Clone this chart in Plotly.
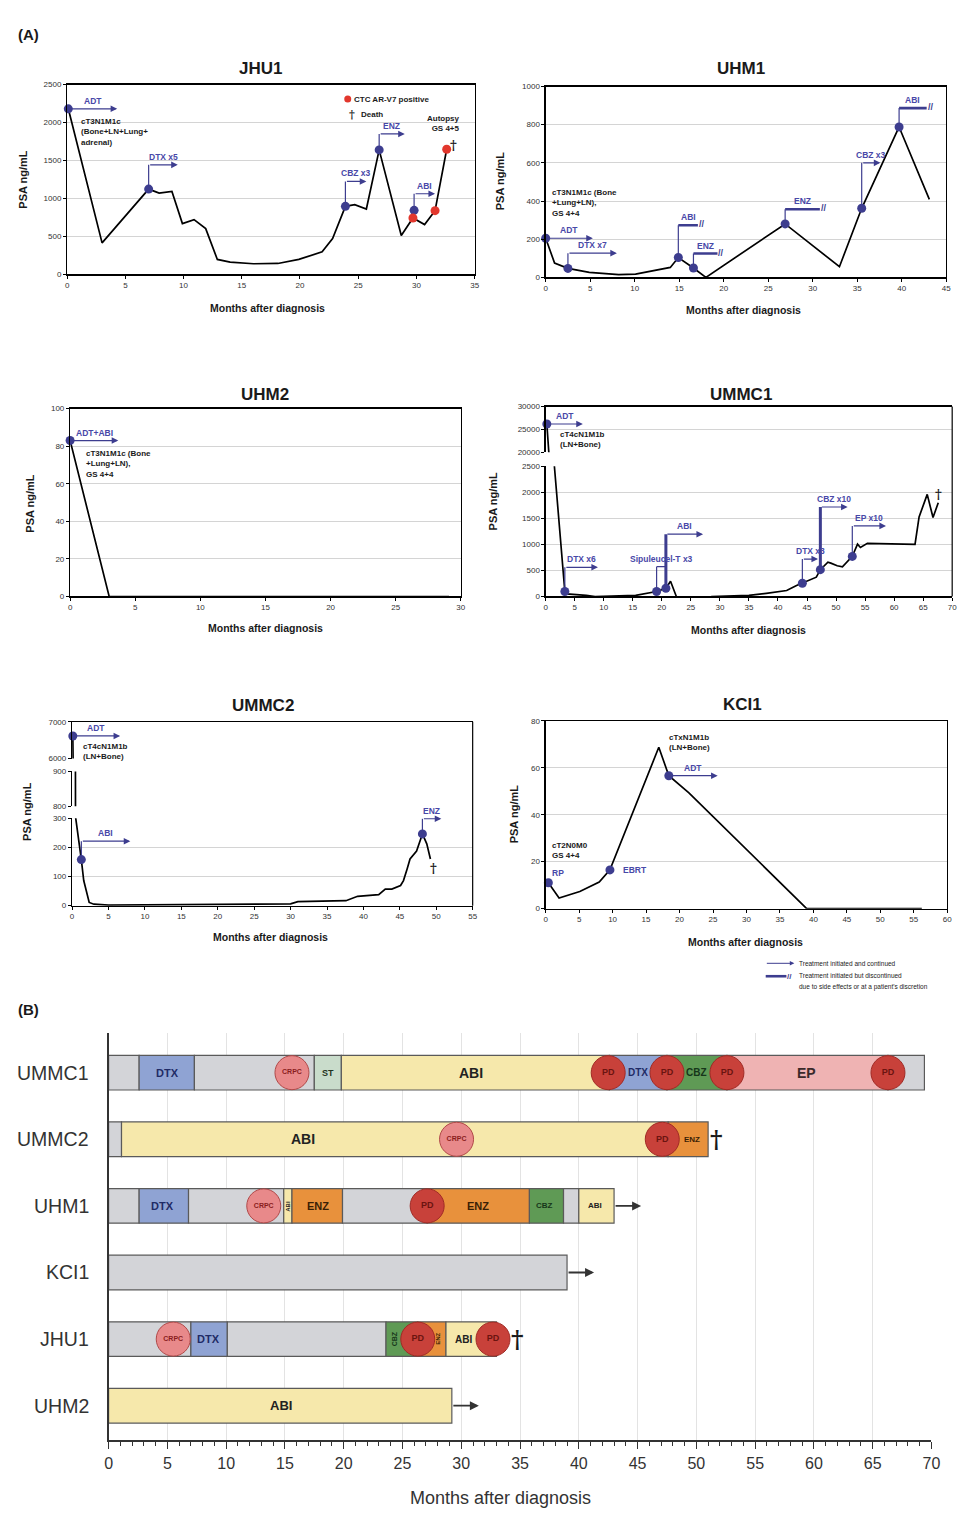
import plotly.graph_objects as go

W, H = 975, 1526
FONT = "Liberation Sans, Arial, Helvetica, sans-serif"
NARROW = "Liberation Sans Narrow, Liberation Sans, Arial, sans-serif"
BLUE = "#3d3d8f"
BLUE_TXT = "#4848a8"
RED = "#e2372d"
GRID = "#d4d4d4"
INK = "#1a1a1a"

# ====================== Panel A data (PSA ng/mL vs months) ======================
JHU1_MONTHS = [0.1, 3.0, 7.0, 7.9, 9.0, 9.9, 10.9, 11.9, 12.9, 14.0, 16.0, 18.1, 19.9, 21.9,
               22.8, 23.9, 24.7, 25.7, 26.8, 28.7, 29.7, 30.7, 31.6, 32.6]
JHU1_PSA = [2180, 415, 1123, 1070, 1093, 669, 721, 603, 197, 162, 140, 144, 197, 297,
            472, 896, 918, 861, 1639, 511, 743, 656, 839, 1648]
JHU1_VISIT_MONTHS = [0.1, 7.0, 23.9, 26.8, 29.8]
JHU1_VISIT_PSA = [2180, 1123, 896, 1639, 843]
JHU1_ARV7_MONTHS = [29.7, 31.6, 32.6]
JHU1_ARV7_PSA = [743, 839, 1648]
# (label, start month, marker PSA, bracket PSA, end month, status)
JHU1_TREATMENTS = [
    ("ADT", 0.1, 2180, 2180, 4.3, "cont"),
    ("DTX x5", 7.0, 1123, 1442, 9.5, "cont"),
    ("CBZ x3", 23.9, 896, 1224, 25.7, "cont"),
    ("ENZ", 26.8, 1639, 1849, 29.0, "cont"),
    ("ABI", 29.8, 843, 1062, 31.6, "cont"),
]
JHU1_NOTES = [(1.0, 1870, "cT3N1M1c<br>(Bone+LN+Lung+<br>adrenal)")]
JHU1_DEATH = [(33.2, 1700)]

UHM1_MONTHS = [0, 1.0, 2.5, 4.9, 8.2, 10.1, 14.0, 14.9, 16.6, 18.0, 26.9, 33.0, 35.5, 39.7, 43.1]
UHM1_PSA = [205, 75, 47, 26, 14, 17, 52, 104, 49, 0, 280, 56, 362, 788, 409]
UHM1_VISIT_MONTHS = [0, 2.5, 14.9, 16.6, 26.9, 35.5, 39.7]
UHM1_VISIT_PSA = [205, 47, 104, 49, 280, 362, 788]
UHM1_TREATMENTS = [
    ("ADT", 0, 205, 205, 5.3, "cont"),
    ("DTX x7", 2.5, 47, 127, 8.0, "cont"),
    ("ABI", 14.9, 104, 273, 17.1, "disc"),
    ("ENZ", 16.6, 49, 125, 19.3, "disc"),
    ("ENZ", 26.9, 280, 357, 30.8, "disc"),
    ("CBZ x3", 35.5, 362, 600, 37.6, "cont"),
    ("ABI", 39.7, 788, 887, 42.8, "disc"),
]
UHM1_NOTES = [(0.5, 390, "cT3N1M1c (Bone<br>+Lung+LN),<br>GS 4+4")]

UHM2_MONTHS = [0, 3.0, 29.1]
UHM2_PSA = [83, 0, 0]
UHM2_VISIT_MONTHS = [0]
UHM2_VISIT_PSA = [83]
UHM2_TREATMENTS = [("ADT+ABI", 0, 83, 83, 3.7, "cont")]
UHM2_NOTES = [(1.1, 70.5, "cT3N1M1c (Bone<br>+Lung+LN),<br>GS 4+4")]

UMMC1_MONTHS = [0.2, 1.5, 3.3, 3.6, 7.0, 8.5, 15.5, 19.1, 20.7, 21.5, 22.5, None, 28.5, 35.0,
                38.0, 41.5, 43.2, 44.2, 45.8, 46.6, 47.3, 48.6, 49.1, 50.2, 51.1, 52.0, 52.8,
                53.7, 54.2, 55.4, 63.6, 64.3, 65.7, 66.7, 67.6]
UMMC1_PSA = [26200, 2500, 95, 50, 20, 0, 20, 95, 159, 293, 0, None, 0, 20,
             60, 115, 210, 254, 330, 370, 515, 660, 640, 590, 570, 687, 770,
             1005, 940, 1020, 1000, 1527, 1960, 1515, 1800]
UMMC1_VISIT_MONTHS = [0.2, 3.3, 19.1, 20.7, 44.2, 47.3, 52.8]
UMMC1_VISIT_PSA = [26200, 95, 95, 159, 254, 515, 770]
UMMC1_TREATMENTS_UPPER = [("ADT", 0.2, 26200, 26200, 6.4, "cont")]
UMMC1_TREATMENTS = [
    ("DTX x6", 3.3, 95, 560, 9.0, "cont"),
    ("Sipuleucel-T x3", 19.1, 95, 573, 20.8, "line"),
    ("ABI", 20.7, 159, 1196, 27.1, "cont"),
    ("DTX x3", 44.2, 254, 719, 46.9, "cont"),
    ("CBZ x10", 47.3, 515, 1718, 52.0, "cont"),
    ("EP x10", 52.8, 770, 1355, 58.6, "cont"),
]
UMMC1_NOTES = [(2.2, 22900, "cT4cN1M1b<br>(LN+Bone)")]
UMMC1_DEATH = [(67.6, 1950)]

UMMC2_MONTHS = [0.1, 0.5, 1.27, 1.6, 2.35, 3.0, 5.0, 30.0, 31.0, 35.1, 37.6, 39.2, 40.1, 42.1,
                43.0, 43.9, 45.1, 45.5, 46.0, 46.4, 47.3, 48.1, 48.7, 49.2]
UMMC2_PSA = [6613, 300, 158, 86, 11, 5, 2, 6, 14, 17, 17, 32, 34, 38,
             57, 57, 69, 86, 126, 160, 187, 246, 212, 160]
UMMC2_VISIT_MONTHS = [0.1, 1.27, 48.1]
UMMC2_VISIT_PSA = [6613, 158, 246]
UMMC2_TREATMENTS_TOP = [("ADT", 0.1, 6613, 6613, 6.6, "cont")]
UMMC2_TREATMENTS = [
    ("ABI", 1.27, 158, 221, 8.0, "cont"),
    ("ENZ", 48.1, 246, 298, 50.7, "cont"),
]
UMMC2_NOTES = [(1.2, 6200, "cT4cN1M1b<br>(LN+Bone)")]
UMMC2_DEATH = [(49.6, 128)]

KCI1_MONTHS = [0.4, 2.0, 5.1, 8.0, 9.6, 16.9, 18.4, 21.4, 39.0, 56.2]
KCI1_PSA = [11, 4.5, 7.3, 11.3, 16.5, 68.7, 56.6, 49.3, 0, 0]
KCI1_VISIT_MONTHS = [0.4, 9.6, 18.4]
KCI1_VISIT_PSA = [11, 16.5, 56.6]
KCI1_TREATMENTS = [("ADT", 18.4, 56.6, 56.6, 25.7, "cont")]
KCI1_NOTES = [(0.6, 24.8, "cT2N0M0<br>GS 4+4"), (18.1, 70.9, "cTxN1M1b<br>(LN+Bone)")]
KCI1_BLUE_NOTES = [(1.9, 15.2, "RP"), (13.3, 16.5, "EBRT")]

# ====================== Panel B data (treatment timelines) ======================
TIMELINE_PATIENTS = ["UMMC1", "UMMC2", "UHM1", "KCI1", "JHU1", "UHM2"]
UMMC1_COURSE = [(0, 2.6, ""), (2.6, 7.3, "DTX"), (7.3, 17.5, ""), (17.5, 19.8, "ST"),
                (19.8, 42.6, "ABI"), (42.6, 47.5, "DTX"), (47.5, 52.6, "CBZ"),
                (52.6, 66.3, "EP"), (66.3, 69.4, "")]
UMMC2_COURSE = [(0, 1.1, ""), (1.1, 47.6, "ABI"), (47.6, 51.0, "ENZ")]
UHM1_COURSE = [(0, 2.6, ""), (2.6, 6.8, "DTX"), (6.8, 14.9, ""), (14.9, 15.6, "ABI"),
               (15.6, 19.9, "ENZ"), (19.9, 27.1, ""), (27.1, 35.8, "ENZ"),
               (35.8, 38.7, "CBZ"), (38.7, 40.0, ""), (40.0, 43.0, "ABI")]
KCI1_COURSE = [(0, 39.0, "")]
JHU1_COURSE = [(0, 7.0, ""), (7.0, 10.1, "DTX"), (10.1, 23.6, ""), (23.6, 26.3, "CBZ"),
               (26.3, 28.7, "ENZ"), (28.7, 33.0, "ABI")]
UHM2_COURSE = [(0, 29.2, "ABI")]

# (month, text, font size, angle)
UMMC1_LABELS = [(5.0, "DTX", 11, 0), (18.65, "ST", 9, 0), (30.8, "ABI", 14, 0),
                (45.0, "DTX", 10, 0), (50.05, "CBZ", 10, 0), (59.4, "EP", 14, 0)]
UMMC2_LABELS = [(16.5, "ABI", 14, 0), (49.6, "ENZ", 8, 0)]
UHM1_LABELS = [(4.6, "DTX", 11, 0), (15.25, "ABI", 6, -90), (17.8, "ENZ", 11, 0),
               (31.4, "ENZ", 11, 0), (37.1, "CBZ", 8, 0), (41.4, "ABI", 8, 0)]
KCI1_LABELS = []
JHU1_LABELS = [(8.5, "DTX", 11, 0), (24.3, "CBZ", 7, -90), (28.0, "ENZ", 6, -90),
               (30.2, "ABI", 10, 0)]
UHM2_LABELS = [(14.7, "ABI", 13, 0)]

UMMC1_EVENTS = [(15.6, "CRPC"), (42.5, "PD"), (47.5, "PD"), (52.6, "PD"), (66.3, "PD")]
UMMC2_EVENTS = [(29.6, "CRPC"), (47.1, "PD")]
UHM1_EVENTS = [(13.2, "CRPC"), (27.1, "PD")]
KCI1_EVENTS = []
JHU1_EVENTS = [(5.5, "CRPC"), (26.3, "PD"), (32.7, "PD")]
UHM2_EVENTS = []

DEATH_MONTH = {"UMMC1": 70.1, "UMMC2": 51.7, "JHU1": 34.8}
ONGOING_MONTH = {"UHM1": 43.0, "KCI1": 39.0, "UHM2": 29.2}

COURSES = {"UMMC1": UMMC1_COURSE, "UMMC2": UMMC2_COURSE, "UHM1": UHM1_COURSE,
           "KCI1": KCI1_COURSE, "JHU1": JHU1_COURSE, "UHM2": UHM2_COURSE}
LABELS = {"UMMC1": UMMC1_LABELS, "UMMC2": UMMC2_LABELS, "UHM1": UHM1_LABELS,
          "KCI1": KCI1_LABELS, "JHU1": JHU1_LABELS, "UHM2": UHM2_LABELS}
EVENTS = {"UMMC1": UMMC1_EVENTS, "UMMC2": UMMC2_EVENTS, "UHM1": UHM1_EVENTS,
          "KCI1": KCI1_EVENTS, "JHU1": JHU1_EVENTS, "UHM2": UHM2_EVENTS}

SEG_COLORS = {"": "#d3d4d8", "DTX": "#8fa3d3", "ST": "#c9dccb", "ABI": "#f6e8ab",
              "ENZ": "#e8913c", "CBZ": "#5f9a55", "EP": "#efb3b3"}
SEG_TEXT = {"DTX": "#1f2b66", "ST": "#1f3320", "ABI": "#222222", "ENZ": "#3a1f05",
            "CBZ": "#16361a", "EP": "#3a2a2a"}

# ====================== helpers ======================
fig = go.Figure()
shapes = []
annots = []


def r(n, k):
    return k if n == 1 else f"{k}{n}"


def lname(n, k):
    return f"{k}axis" if n == 1 else f"{k}axis{n}"


def xd(a, b):
    return [a / W, b / W]


def yd(top, bottom):
    return [1 - bottom / H, 1 - top / H]


def px(v):
    return v / W


def py(v):
    return 1 - v / H


def txt(text, x, y, size=8, color=INK, bold=False, xref="paper", yref="paper",
        xanchor="center", yanchor="middle", align="center", angle=0, family=FONT, **kw):
    annots.append(dict(text=f"<b>{text}</b>" if bold else text, x=x, y=y, xref=xref, yref=yref,
                       xanchor=xanchor, yanchor=yanchor, align=align, showarrow=False,
                       textangle=angle, font=dict(size=size, color=color, family=family), **kw))


XA = dict(showline=True, linecolor="black", linewidth=1.2, ticks="outside", ticklen=3,
          tickwidth=1, tickcolor="black", tickfont=dict(size=8, color="#333", family=FONT),
          showgrid=False, zeroline=False, fixedrange=True)
YA = dict(showline=True, linecolor="black", linewidth=1.2, ticks="outside", ticklen=3,
          tickwidth=1, tickcolor="black", tickfont=dict(size=8, color="#333", family=FONT),
          showgrid=True, gridcolor=GRID, gridwidth=1, zeroline=False, fixedrange=True)


def set_axes(n, xpix, ypix, xr, xt, yr, yt, xmode="box", ymirror=True):
    xa = dict(XA, domain=xd(*xpix), range=xr, tickvals=list(xt), ticktext=[str(v) for v in xt],
              anchor=r(n, "y"))
    if xmode == "box":
        xa["mirror"] = True
    elif xmode == "bottom":
        xa["mirror"] = False
    elif xmode == "top":
        xa.update(side="top", ticks="", showticklabels=False, mirror=False)
    else:
        xa.update(showline=False, ticks="", showticklabels=False)
    ya = dict(YA, domain=yd(*ypix), range=yr, tickvals=list(yt), ticktext=[str(v) for v in yt],
              anchor=r(n, "x"), mirror=ymirror)
    fig.layout[lname(n, "x")] = xa
    fig.layout[lname(n, "y")] = ya


def psa_line(n, xs, ys):
    fig.add_trace(go.Scatter(x=xs, y=ys, mode="lines", line=dict(color="black", width=1.7),
                             xaxis=r(n, "x"), yaxis=r(n, "y"), hoverinfo="skip",
                             connectgaps=False, showlegend=False))


def visits(n, xs, ys, color=BLUE, lo=None, hi=None):
    pts = [(a, b) for a, b in zip(xs, ys) if (lo is None or b >= lo) and (hi is None or b <= hi)]
    if not pts:
        return
    fig.add_trace(go.Scatter(x=[p[0] for p in pts], y=[p[1] for p in pts], mode="markers",
                             marker=dict(color=color, size=9), cliponaxis=False,
                             xaxis=r(n, "x"), yaxis=r(n, "y"), hoverinfo="skip", showlegend=False))


def treatments(n, items, thick=()):
    xr_, yr_ = r(n, "x"), r(n, "y")
    for label, x0, y0, yl, x1, status in items:
        if yl != y0:
            shapes.append(dict(type="line", xref=xr_, yref=yr_, x0=x0, x1=x0, y0=y0, y1=yl,
                               line=dict(color=BLUE, width=3 if label in thick else 1.2)))
        if status == "cont":
            annots.append(dict(x=x1, y=yl, ax=x0, ay=yl, xref=xr_, yref=yr_, axref=xr_, ayref=yr_,
                               showarrow=True, arrowhead=2, arrowsize=1.1, arrowwidth=1.2,
                               arrowcolor=BLUE, text=""))
        elif status == "disc":
            shapes.append(dict(type="line", xref=xr_, yref=yr_, x0=x0, x1=x1, y0=yl, y1=yl,
                               line=dict(color=BLUE, width=2.6)))
            txt("//", x1, yl, size=9, color=BLUE, bold=True, xref=xr_, yref=yr_, xanchor="left",
                xshift=-1, yshift=1)
        else:
            shapes.append(dict(type="line", xref=xr_, yref=yr_, x0=x0, x1=x1, y0=yl, y1=yl,
                               line=dict(color=BLUE, width=1.2)))
        txt(label, (x0 + x1) / 2, yl, size=8.5, color=BLUE_TXT, bold=True, xref=xr_, yref=yr_,
            yanchor="bottom", yshift=1)


def notes(n, items, color=INK):
    for x, y, t in items:
        txt(t, x, y, size=8, color=color, bold=True, xref=r(n, "x"), yref=r(n, "y"),
            xanchor="left", align="left")


def daggers(n, items, size=13):
    for x, y in items:
        txt("†", x, y, size=size, color=INK, bold=True, xref=r(n, "x"), yref=r(n, "y"),
            family="DejaVu Serif, serif")


def titles(title, tx, ty, xl, yl_x, yl_y):
    txt(title, px(tx), py(ty), size=17, bold=True)
    txt("Months after diagnosis", px(xl[0]), py(xl[1]), size=10.5, bold=True)
    txt("PSA ng/mL", px(yl_x), py(yl_y), size=11, bold=True, angle=-90)


# ====================== Panel A ======================
# JHU1
set_axes(1, (64, 477), (81, 272), [0, 35], range(0, 36, 5), [0, 2500], range(0, 2501, 500))
psa_line(1, JHU1_MONTHS, JHU1_PSA)
visits(1, JHU1_VISIT_MONTHS, JHU1_VISIT_PSA)
visits(1, JHU1_ARV7_MONTHS, JHU1_ARV7_PSA, color=RED)
treatments(1, JHU1_TREATMENTS)
notes(1, JHU1_NOTES)
daggers(1, JHU1_DEATH)
txt("Autopsy<br>GS 4+5", 33.9, 1985, size=8, bold=True, xref="x", yref="y", xanchor="right",
    align="right")
fig.add_trace(go.Scatter(x=[24.1], y=[2308], mode="markers", marker=dict(color=RED, size=7),
                         xaxis="x", yaxis="y", cliponaxis=False, showlegend=False, hoverinfo="skip"))
txt("CTC AR-V7 positive", 24.5, 2308, size=8, bold=True, xref="x", yref="y", xanchor="left")
txt("†", 24.5, 2106, size=11, bold=True, xref="x", yref="y", family="DejaVu Serif, serif")
txt("Death", 25.1, 2106, size=8, bold=True, xref="x", yref="y", xanchor="left")
titles("JHU1", 260, 65, (267, 306), 19, 176)

# UHM1
set_axes(2, (549, 955), (83, 275), [0, 45], range(0, 46, 5), [0, 1000], range(0, 1001, 200))
psa_line(2, UHM1_MONTHS, UHM1_PSA)
visits(2, UHM1_VISIT_MONTHS, UHM1_VISIT_PSA)
treatments(2, UHM1_TREATMENTS)
notes(2, UHM1_NOTES)
titles("UHM1", 747, 65, (749, 308), 503, 178)

# UHM2
set_axes(3, (67, 463), (407, 596), [0, 30], range(0, 31, 5), [0, 100], range(0, 101, 20))
psa_line(3, UHM2_MONTHS, UHM2_PSA)
visits(3, UHM2_VISIT_MONTHS, UHM2_VISIT_PSA)
treatments(3, UHM2_TREATMENTS)
notes(3, UHM2_NOTES)
titles("UHM2", 265, 393, (265, 628), 26, 502)

# UMMC1 (broken axis)
set_axes(4, (549, 961), (405, 451), [0, 70], range(0, 71, 5), [20000, 30000],
         [20000, 25000, 30000], xmode="top", ymirror=False)
set_axes(5, (549, 961), (465, 596), [0, 70], range(0, 71, 5), [0, 2500], range(0, 2501, 500),
         xmode="bottom", ymirror=False)
psa_line(4, UMMC1_MONTHS, UMMC1_PSA)
psa_line(5, UMMC1_MONTHS, UMMC1_PSA)
visits(4, UMMC1_VISIT_MONTHS, UMMC1_VISIT_PSA, lo=20000)
visits(5, UMMC1_VISIT_MONTHS, UMMC1_VISIT_PSA, hi=2500)
treatments(4, UMMC1_TREATMENTS_UPPER)
treatments(5, UMMC1_TREATMENTS, thick=("ABI", "CBZ x10"))
notes(4, UMMC1_NOTES)
daggers(5, UMMC1_DEATH)
shapes.append(dict(type="line", xref="paper", yref="paper", x0=px(961), x1=px(961),
                   y0=py(596), y1=py(405), line=dict(color="black", width=1.2)))
titles("UMMC1", 747, 393, (755, 630), 496, 500)

# UMMC2 (broken axis, three segments)
set_axes(6, (69, 475), (722, 759), [0, 55], range(0, 56, 5), [6000, 7000], [6000, 7000],
         xmode="top", ymirror=False)
set_axes(7, (69, 475), (772, 807), [0, 55], range(0, 56, 5), [800, 900], [800, 900],
         xmode="none", ymirror=False)
set_axes(8, (69, 475), (819, 907), [0, 55], range(0, 56, 5), [0, 300], range(0, 301, 100),
         xmode="bottom", ymirror=False)
for n in (6, 7, 8):
    psa_line(n, UMMC2_MONTHS, UMMC2_PSA)
visits(6, UMMC2_VISIT_MONTHS, UMMC2_VISIT_PSA, lo=6000)
visits(8, UMMC2_VISIT_MONTHS, UMMC2_VISIT_PSA, hi=300)
treatments(6, UMMC2_TREATMENTS_TOP)
treatments(8, UMMC2_TREATMENTS)
notes(6, UMMC2_NOTES)
daggers(8, UMMC2_DEATH)
shapes.append(dict(type="line", xref="paper", yref="paper", x0=px(475), x1=px(475),
                   y0=py(907), y1=py(722), line=dict(color="black", width=1.2)))
titles("UMMC2", 263, 706, (270, 939), 24, 812)

# KCI1
set_axes(9, (549, 956), (721, 910), [0, 60], range(0, 61, 5), [0, 80], range(0, 81, 20))
psa_line(9, KCI1_MONTHS, KCI1_PSA)
visits(9, KCI1_VISIT_MONTHS, KCI1_VISIT_PSA)
treatments(9, KCI1_TREATMENTS)
notes(9, KCI1_NOTES)
for x, y, t in KCI1_BLUE_NOTES:
    txt(t, x, y, size=8.5, color=BLUE_TXT, bold=True, xref="x9", yref="y9")
titles("KCI1", 748, 705, (752, 944), 517, 815)

# legend for arrows
annots.append(dict(x=px(801), y=py(965), ax=-29, ay=0, xref="paper", yref="paper",
                   showarrow=True, arrowhead=2, arrowsize=0.9, arrowwidth=1, arrowcolor=BLUE,
                   text=""))
txt("Treatment initiated and continued", px(804), py(965), size=6.5, xanchor="left")
shapes.append(dict(type="line", xref="paper", yref="paper", x0=px(772), x1=px(793),
                   y0=py(978), y1=py(978), line=dict(color=BLUE, width=2.6)))
txt("//", px(792), py(978), size=8, color=BLUE, bold=True, xanchor="left")
txt("Treatment initiated but discontinued", px(804), py(977), size=6.5, xanchor="left")
txt("due to side effects or at a patient's discretion", px(804), py(989), size=6.5,
    xanchor="left")

txt("(A)", px(12), py(31), size=15, bold=True, xanchor="left")
txt("(B)", px(12), py(1011), size=15, bold=True, xanchor="left")

# ====================== Panel B ======================
NB = 10
fig.layout[lname(NB, "x")] = dict(
    domain=xd(106, 940), range=[0, 70], anchor="y10", tickvals=list(range(0, 71, 5)),
    ticktext=[str(v) for v in range(0, 71, 5)], ticks="outside", ticklen=7, tickcolor="#333",
    minor=dict(ticks="outside", ticklen=4, dtick=1, tickcolor="#333", showgrid=False),
    showgrid=True, gridcolor="#e3e3e3", gridwidth=1, showline=True, linecolor="#333",
    linewidth=2, tickfont=dict(size=16, color="#333", family=NARROW), zeroline=False,
    fixedrange=True)
fig.layout[lname(NB, "y")] = dict(
    domain=yd(1035, 1445), range=[-0.522, 5.597], anchor="x10", showline=True,
    linecolor="#333", linewidth=1.5, showticklabels=False, ticks="", showgrid=False,
    zeroline=False, fixedrange=True)

nrows = len(TIMELINE_PATIENTS)
for i, pid in enumerate(TIMELINE_PATIENTS):
    row = nrows - 1 - i
    course = COURSES[pid]
    fig.add_trace(go.Bar(
        orientation="h", y=[row] * len(course), x=[b - a for a, b, _ in course],
        base=[a for a, _, _ in course], width=0.52,
        marker=dict(color=[SEG_COLORS[k] for _, _, k in course],
                    line=dict(color="#5a5a5a", width=1.2)),
        xaxis="x10", yaxis="y10", hoverinfo="skip", showlegend=False))
    for x, t, s, ang in LABELS[pid]:
        txt(t, x, row, size=s, color=SEG_TEXT.get(t, INK), bold=True, xref="x10",
            yref="y10", angle=ang)
    ev = EVENTS[pid]
    if ev:
        fig.add_trace(go.Scatter(
            x=[e[0] for e in ev], y=[row] * len(ev), mode="markers+text",
            text=[f"<b>{e[1]}</b>" for e in ev], textposition="middle center",
            textfont=dict(size=[7 if e[1] == "CRPC" else 9 for e in ev],
                          color=["#8a1d1d" if e[1] == "CRPC" else "#6b1410" for e in ev],
                          family=FONT),
            marker=dict(size=34, color=["#e8898a" if e[1] == "CRPC" else "#c8413a" for e in ev],
                        line=dict(color=["#b04848" if e[1] == "CRPC" else "#a02a25" for e in ev],
                                  width=1)),
            cliponaxis=False, xaxis="x10", yaxis="y10", hoverinfo="skip", showlegend=False))
    if pid in DEATH_MONTH:
        txt("†", DEATH_MONTH[pid], row, size=24, bold=True, color=INK, xref="x10", yref="y10",
            family="DejaVu Serif, serif")
    if pid in ONGOING_MONTH:
        e = ONGOING_MONTH[pid]
        annots.append(dict(x=e + 2.3, y=row, ax=e, ay=row, xref="x10", yref="y10",
                           axref="x10", ayref="y10", showarrow=True, arrowhead=2,
                           arrowsize=1, arrowwidth=1.8, arrowcolor="#333", text=""))
    txt(pid, px(88), row, size=19.5, color="#333", xref="paper", yref="y10", xanchor="right",
        family=NARROW)

txt("Months after diagnosis", px(503), py(1503), size=18, color="#333", family=NARROW)

fig.update_layout(
    width=W, height=H, margin=dict(l=0, r=0, t=0, b=0), paper_bgcolor="white",
    plot_bgcolor="white", showlegend=False, barmode="overlay",
    font=dict(family=FONT, color=INK), shapes=shapes, annotations=annots)

fig.write_html("out.html", config={"displayModeBar": False, "staticPlot": True},
               post_script="document.body.style.margin='0';document.body.style.overflow='hidden';")
